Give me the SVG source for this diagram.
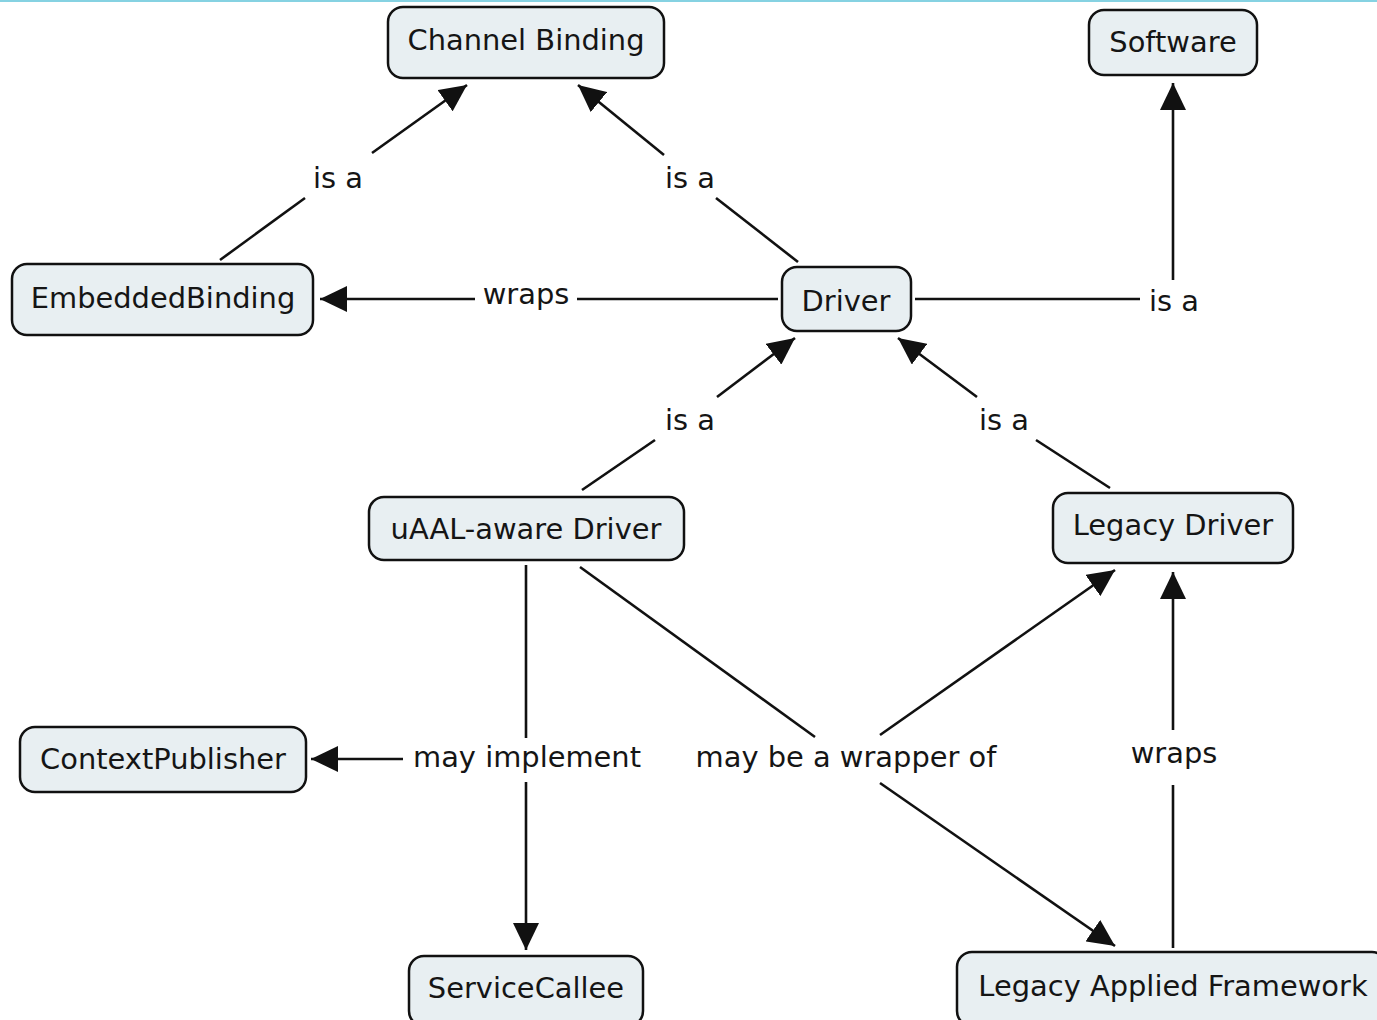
<svg xmlns="http://www.w3.org/2000/svg" width="1377" height="1020" viewBox="0 0 1377 1020">
<style>
.node rect{fill:#e8eff2;stroke:#111;stroke-width:2.5}
.node text,.lbl{font-family:"DejaVu Sans",Verdana,sans-serif;font-size:28.9px;fill:#151515;text-anchor:middle}
.conn line{stroke:#111;stroke-width:2.6}
.arr{marker-end:url(#ah)}
</style>
<defs>
<marker id="ah" markerUnits="userSpaceOnUse" markerWidth="28" markerHeight="26" refX="27" refY="13" orient="auto" viewBox="0 0 28 26">
<path d="M0,0 L27,13 L0,26 z" fill="#111"/>
</marker>
</defs>
<rect width="1377" height="1020" fill="#fff"/>
<rect x="0" y="0" width="1377" height="2" fill="#86d2e2"/>
<g class="conn">
<line x1="220" y1="260" x2="305" y2="198"/>
<line class="arr" x1="372" y1="153" x2="467" y2="85"/>
<line x1="798" y1="262" x2="716" y2="198"/>
<line class="arr" x1="664" y1="155" x2="578" y2="85"/>
<line x1="778" y1="299" x2="577" y2="299"/>
<line class="arr" x1="475" y1="299" x2="320" y2="299"/>
<line x1="915" y1="299" x2="1140" y2="299"/>
<line class="arr" x1="1173" y1="280" x2="1173" y2="83"/>
<line x1="582" y1="490" x2="655" y2="440"/>
<line class="arr" x1="717" y1="397" x2="795" y2="338"/>
<line x1="1110" y1="488" x2="1036" y2="440"/>
<line class="arr" x1="977" y1="397" x2="898" y2="338"/>
<line x1="526" y1="565" x2="526" y2="738"/>
<line class="arr" x1="526" y1="782" x2="526" y2="950"/>
<line class="arr" x1="403" y1="759" x2="311" y2="759"/>
<line x1="580" y1="567" x2="815" y2="737"/>
<line class="arr" x1="880" y1="735" x2="1115" y2="570"/>
<line class="arr" x1="880" y1="783" x2="1115" y2="946"/>
<line x1="1173" y1="948" x2="1173" y2="785"/>
<line class="arr" x1="1173" y1="730" x2="1173" y2="572"/>
</g>
<g class="labels">
<text class="lbl" x="338" y="188">is a</text>
<text class="lbl" x="690" y="188">is a</text>
<text class="lbl" x="526" y="304">wraps</text>
<text class="lbl" x="1174" y="311">is a</text>
<text class="lbl" x="690" y="430">is a</text>
<text class="lbl" x="1004" y="430">is a</text>
<text class="lbl" x="527" y="767">may implement</text>
<text class="lbl" x="846" y="767">may be a wrapper of</text>
<text class="lbl" x="1174" y="763">wraps</text>
</g>
<g id="channel-binding" class="node"><rect x="388" y="7" width="276" height="71" rx="15"/><text x="526" y="50">Channel Binding</text></g>
<g id="software" class="node"><rect x="1089" y="10" width="168" height="65" rx="15"/><text x="1173" y="52">Software</text></g>
<g id="embedded-binding" class="node"><rect x="12" y="264" width="301" height="71" rx="15"/><text x="163" y="308">EmbeddedBinding</text></g>
<g id="driver" class="node"><rect x="782" y="267" width="129" height="64" rx="15"/><text x="846" y="311">Driver</text></g>
<g id="uaal-aware-driver" class="node"><rect x="369" y="497" width="315" height="63" rx="15"/><text x="526" y="539">uAAL-aware Driver</text></g>
<g id="legacy-driver" class="node"><rect x="1053" y="493" width="240" height="70" rx="15"/><text x="1173" y="535">Legacy Driver</text></g>
<g id="context-publisher" class="node"><rect x="20" y="727" width="286" height="65" rx="15"/><text x="163" y="769">ContextPublisher</text></g>
<g id="service-callee" class="node"><rect x="409" y="956" width="234" height="70" rx="15"/><text x="526" y="998">ServiceCallee</text></g>
<g id="legacy-applied-framework" class="node"><rect x="957" y="952" width="430" height="74" rx="15"/><text x="1173" y="996">Legacy Applied Framework</text></g>
</svg>
